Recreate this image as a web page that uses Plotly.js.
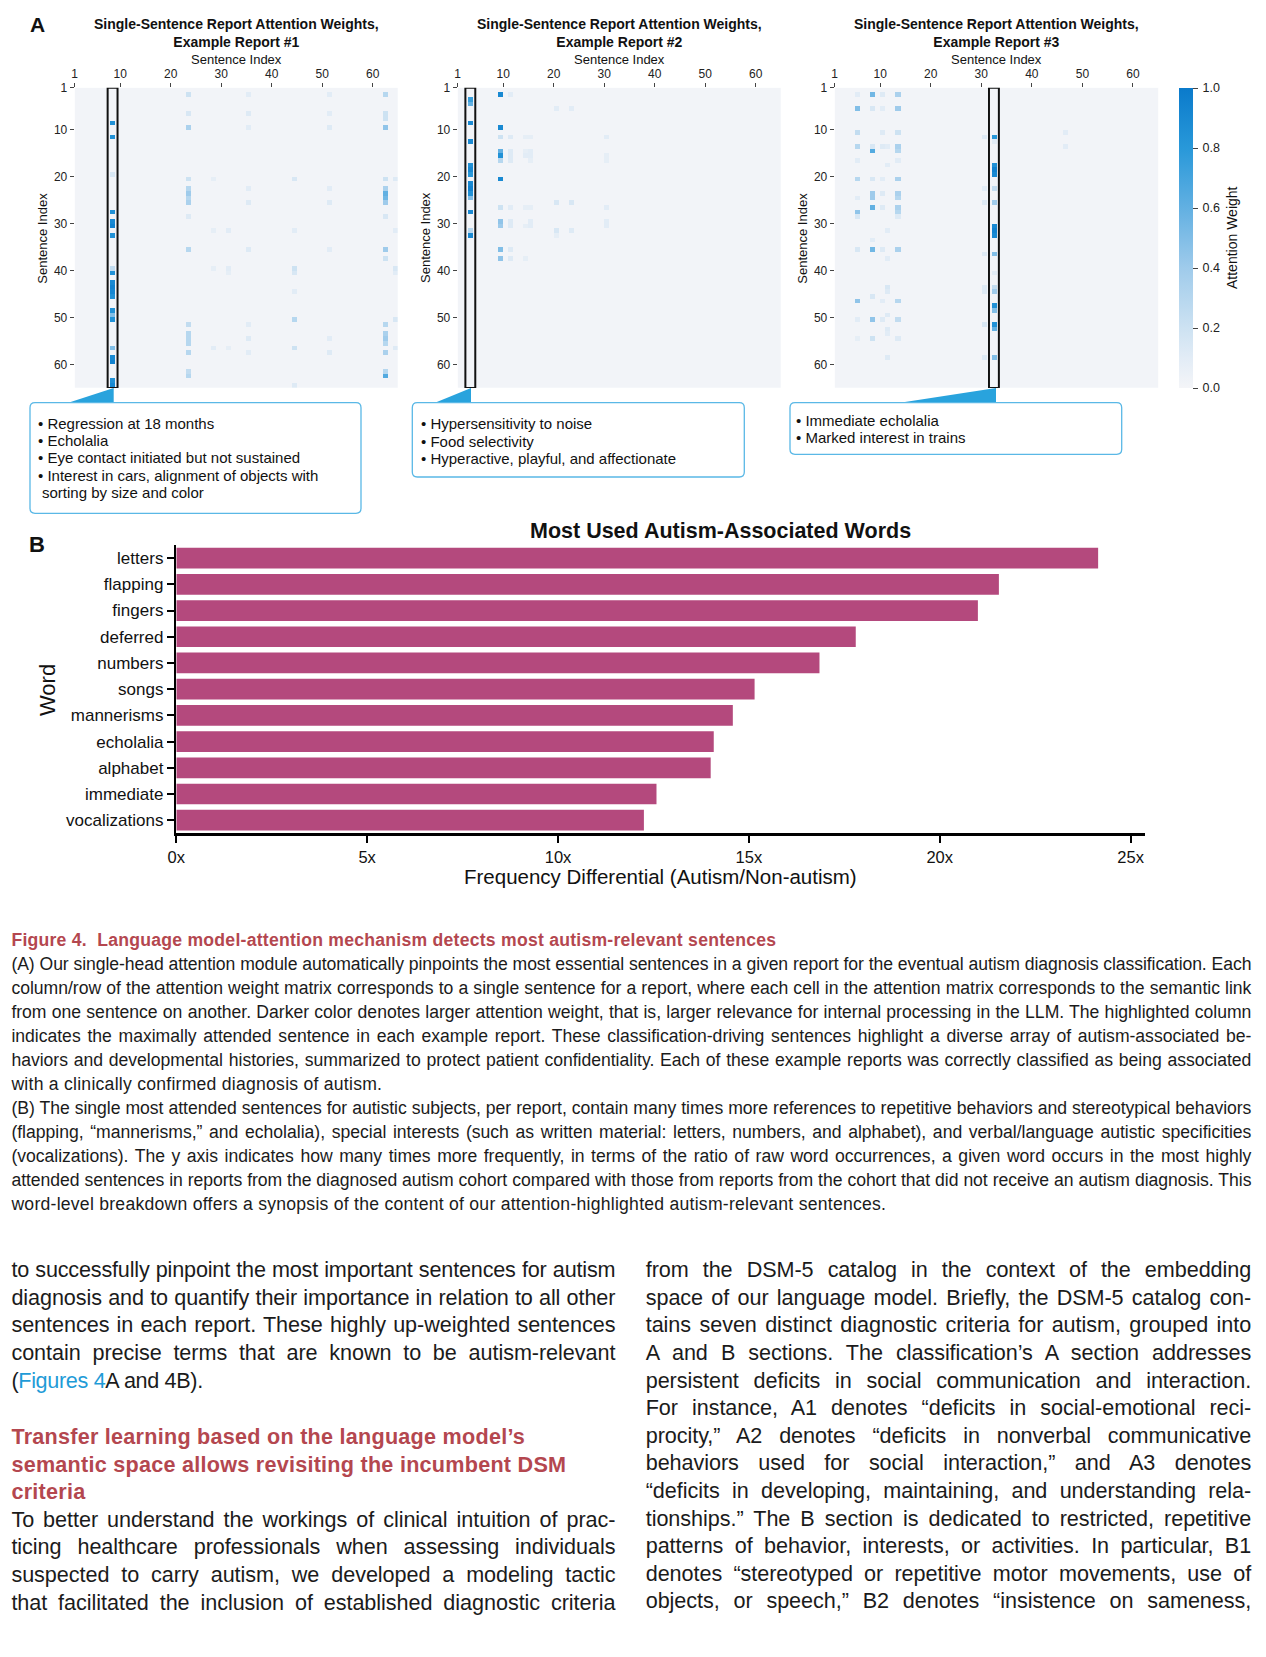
<!DOCTYPE html>
<html>
<head>
<meta charset="utf-8">
<script src="https://cdn.plot.ly/plotly-3.0.1.min.js"></script>
<style>
  html, body { margin:0; padding:0; background:#ffffff; }
  #page { position:relative; width:1266px; height:1657px; overflow:hidden; background:#fff; }
  #plot { position:absolute; left:0; top:0; width:1266px; height:900px; }
  .ln { position:absolute; font-family:'Liberation Sans', Arial, sans-serif; color:#1b1b1b; white-space:normal; overflow:visible; }
  .cap { font-size:17.6px; line-height:24px; height:24px; }
  .body { font-size:21.6px; line-height:27.6px; height:27.6px; }
  .j { text-align:justify; text-align-last:justify; }
  .red { color:#b4474f; font-weight:bold; }
  .link { color:#1e9bd7; }
</style>
</head>
<body>
<div id="page">
  <div id="plot"></div>
  <div id="text"></div>
</div>
<script>
// ---------------- DATA ----------------
const N = 64;
const sentenceIdx = Array.from({length: N}, (_, i) => i + 1);
const sentenceTickLabels = ['1', '10', '20', '30', '40', '50', '60'];
const highlightedSentence = [8, 3, 32];
const reportTitles = ['Example Report #1', 'Example Report #2', 'Example Report #3'];

// attention cells: [column sentence, row sentence, weight]; all other cells ~ baseline
const baselineWeight = 0.01;
const report1Cells = [
  [8,8,.85],[8,11,.85],[8,19,.15],[8,27,.85],[8,29,.9],[8,30,.95],[8,32,.85],[8,39,.25],[8,40,.85],
  [8,42,.9],[8,43,.95],[8,44,.92],[8,45,.85],[8,48,.85],[8,49,.5],[8,50,.85],[8,56,.5],[8,58,.9],
  [8,59,.95],[8,63,.85],[8,64,.9],
  [23,2,.2],[23,6,.15],[23,9,.35],[23,20,.2],[23,22,.3],[23,23,.4],[23,24,.3],[23,25,.35],[23,28,.12],
  [23,35,.3],[23,51,.25],[23,53,.3],[23,54,.3],[23,55,.3],[23,57,.3],[23,61,.25],[23,62,.3],
  [62,2,.3],[62,6,.2],[62,7,.2],[62,9,.45],[62,20,.2],[62,22,.35],[62,23,.6],[62,24,.55],[62,25,.4],
  [62,28,.15],[62,35,.4],[62,37,.2],[62,51,.3],[62,53,.35],[62,54,.4],[62,55,.3],[62,57,.35],
  [62,61,.3],[62,62,.65],
  [44,20,.15],[44,31,.1],[44,39,.2],[44,40,.15],[44,44,.1],[44,50,.3],[44,56,.2],[44,64,.12],
  [64,20,.12],[64,31,.1],[64,39,.15],[64,40,.1],[64,50,.15],[64,56,.12],
  [35,2,.1],[35,6,.12],[35,9,.1],[35,22,.1],[35,25,.12],[35,35,.12],[35,51,.1],[35,54,.12],[35,57,.1],
  [51,2,.1],[51,6,.1],[51,9,.12],[51,22,.1],[51,25,.12],[51,35,.1],[51,54,.1],[51,57,.12],
  [28,20,.08],[28,31,.08],[28,39,.08],[28,56,.1],
  [31,31,.1],[31,39,.1],[31,40,.08],[31,56,.08]
];
const report2Cells = [
  [3,3,.75],[3,4,.6],[3,8,.9],[3,12,.9],[3,17,.85],[3,18,.9],[3,19,.8],[3,21,.9],[3,22,.95],
  [3,23,.85],[3,24,.5],[3,27,.9],[3,31,.3],[3,32,.9],
  [9,2,.9],[9,9,.9],[9,11,.2],[9,14,.6],[9,15,.85],[9,16,.3],[9,20,.9],[9,26,.2],[9,29,.45],
  [9,30,.4],[9,35,.5],[9,37,.45],
  [11,2,.1],[11,11,.12],[11,14,.12],[11,15,.12],[11,16,.12],[11,26,.1],[11,29,.12],[11,30,.12],
  [11,35,.12],[11,37,.12],
  [14,11,.08],[14,14,.08],[14,15,.1],[14,26,.08],[14,30,.08],[14,37,.08],
  [15,11,.08],[15,14,.1],[15,15,.1],[15,16,.08],[15,26,.08],[15,29,.1],[15,30,.1],
  [20,5,.1],[20,25,.15],[20,31,.15],[20,32,.08],
  [23,5,.1],[23,25,.15],[23,31,.12],
  [30,11,.1],[30,15,.08],[30,16,.08],[30,26,.1],[30,29,.1],[30,30,.1]
];
const report3Cells = [
  [32,11,.8],[32,12,.1],[32,17,.85],[32,18,.95],[32,19,.9],[32,22,.25],[32,25,.4],[32,30,.9],
  [32,31,.95],[32,32,.9],[32,36,.5],[32,40,.1],[32,43,.25],[32,44,.4],[32,47,.85],[32,48,.5],
  [32,51,.85],[32,52,.6],[32,58,.5],
  [30,11,.12],[30,22,.1],[30,25,.12],[30,36,.12],[30,43,.12],[30,44,.12],[30,51,.15],[30,58,.12],
  [5,2,.1],[5,5,.5],[5,10,.25],[5,13,.3],[5,16,.1],[5,20,.3],[5,24,.1],[5,27,.45],[5,28,.15],
  [5,35,.15],[5,46,.45],[5,50,.1],[5,54,.08],
  [8,2,.55],[8,5,.15],[8,13,.15],[8,14,.65],[8,20,.15],[8,23,.4],[8,24,.4],[8,26,.6],[8,33,.1],
  [8,35,.55],[8,45,.15],[8,50,.45],[8,54,.2],
  [13,2,.35],[13,5,.4],[13,10,.2],[13,13,.35],[13,14,.3],[13,16,.1],[13,20,.35],[13,23,.35],
  [13,24,.3],[13,26,.35],[13,27,.3],[13,28,.12],[13,35,.35],[13,46,.3],[13,50,.25],[13,54,.12],
  [10,2,.12],[10,5,.1],[10,10,.12],[10,13,.12],[10,20,.1],[10,23,.12],[10,26,.12],[10,35,.12],
  [10,46,.1],[10,50,.12],
  [11,13,.1],[11,17,.1],[11,31,.1],[11,37,.1],[11,43,.15],[11,44,.12],[11,49,.12],[11,52,.12],
  [11,53,.1],[11,58,.12],
  [46,10,.1],[46,13,.1]
];
const colorbarTicks = [0, 0.2, 0.4, 0.6, 0.8, 1.0];

const words = ['letters','flapping','fingers','deferred','numbers','songs','mannerisms',
               'echolalia','alphabet','immediate','vocalizations'];
const freqDiff = [24.15, 21.55, 21.0, 17.8, 16.85, 15.15, 14.58, 14.08, 14.0, 12.58, 12.25];
const freqTicks = [0, 5, 10, 15, 20, 25];
const freqTickLabels = ['0x', '5x', '10x', '15x', '20x', '25x'];

const box1Lines = ['Regression at 18 months', 'Echolalia', 'Eye contact initiated but not sustained',
                   'Interest in cars, alignment of objects with', 'sorting by size and color'];
const box2Lines = ['Hypersensitivity to noise', 'Food selectivity', 'Hyperactive, playful, and affectionate'];
const box3Lines = ['Immediate echolalia', 'Marked interest in trains'];

// ---------------- LAYOUT HELPERS ----------------
const W = 1266, H = 900;
const FONT = "'Liberation Sans', Arial, sans-serif";
const X = p => p / W;
const Y = p => 1 - p / H;

function buildMatrix(cells) {
  const z = [];
  for (let r = 0; r < N; r++) z.push(new Array(N).fill(baselineWeight));
  cells.forEach(([c, r, v]) => { z[r - 1][c - 1] = v; });
  return z;
}

const colorscale = [
  [0, '#f4f5f8'], [0.1, '#e2ecf6'], [0.2, '#cde2f2'], [0.4, '#9fcbeb'],
  [0.6, '#62b0e2'], [0.8, '#2898d9'], [1, '#0a7acb']
];

const hmDomains = [[74.7, 398], [457.7, 781], [834.7, 1158.2]];
const hmTop = 87.7, hmBottom = 388;
const allCells = [report1Cells, report2Cells, report3Cells];

const data = [];
const layout = {
  width: W, height: H,
  margin: {l: 0, r: 0, t: 0, b: 0},
  paper_bgcolor: '#ffffff', plot_bgcolor: 'rgba(0,0,0,0)',
  showlegend: false,
  font: {family: FONT, color: '#1b1b1b'},
  shapes: [], annotations: []
};

const tickVals = sentenceTickLabels.map(t => Number(t) - 0.5);

function txt(x, y, text, size, opts) {
  return Object.assign({
    xref: 'paper', yref: 'paper', x: X(x), y: Y(y), text: text, showarrow: false,
    xanchor: 'center', yanchor: 'middle',
    font: {family: FONT, size: size, color: '#111111'}
  }, opts || {});
}

hmDomains.forEach((d, i) => {
  const sx = i === 0 ? '' : String(i + 1);
  const tr = {
    type: 'heatmap', x: sentenceIdx, y: sentenceIdx, z: buildMatrix(allCells[i]),
    colorscale: colorscale, zmin: 0, zmax: 1, showscale: i === 2,
    xaxis: 'x' + sx, yaxis: 'y' + sx, hoverinfo: 'skip'
  };
  if (i === 2) {
    tr.colorbar = {
      x: X(1179), xanchor: 'left', xpad: 0, xref: 'paper',
      y: Y(hmBottom), yanchor: 'bottom', ypad: 0, yref: 'paper',
      len: (hmBottom - hmTop) / H, lenmode: 'fraction',
      thickness: 14.3, thicknessmode: 'pixels', outlinewidth: 0,
      ticks: 'outside', ticklen: 5, tickcolor: '#444', tickwidth: 1,
      tickvals: colorbarTicks, ticktext: colorbarTicks.map(v => '\u2009' + v.toFixed(1)),
      tickfont: {family: FONT, size: 12.5, color: '#222'}
    };
  }
  data.push(tr);
  const axCommon = {
    tickvals: tickVals, ticktext: sentenceTickLabels, ticks: 'outside', ticklen: 4,
    tickcolor: '#444', tickwidth: 1, tickfont: {family: FONT, size: 12, color: '#222'},
    showgrid: false, zeroline: false, showline: false
  };
  layout['xaxis' + sx] = Object.assign({}, axCommon, {
    domain: [X(d[0]), X(d[1])], anchor: 'y' + sx, side: 'top', range: [0.5, N + 0.5]
  });
  layout['yaxis' + sx] = Object.assign({}, axCommon, {
    domain: [Y(hmBottom), Y(hmTop)], anchor: 'x' + sx, range: [N + 0.5, 0.5]
  });
  const c = highlightedSentence[i];
  layout.shapes.push({
    type: 'rect', xref: 'x' + sx, yref: 'y' + sx, x0: c - 0.98, x1: c + 0.98, y0: 0.5, y1: N + 0.5,
    line: {color: '#111111', width: 2}, fillcolor: 'rgba(0,0,0,0)', layer: 'above'
  });
  const cx = (d[0] + d[1]) / 2;
  layout.annotations.push(txt(cx, 33.2,
    '<b>Single-Sentence Report Attention Weights,<br>' + reportTitles[i] + '</b>', 14));
  layout.annotations.push(txt(cx, 60, 'Sentence Index', 13));
});
layout.annotations.push(txt(41.7, 238, 'Sentence Index', 13, {textangle: -90}));
layout.annotations.push(txt(425, 238, 'Sentence Index', 13, {textangle: -90}));
layout.annotations.push(txt(801.7, 238, 'Sentence Index', 13, {textangle: -90}));
layout.annotations.push(txt(1232, 238, 'Attention Weight', 14, {textangle: -90}));
layout.annotations.push(txt(37.5, 24.5, '<b>A</b>', 21));
layout.annotations.push(txt(37, 544, '<b>B</b>', 22));

function rrect(x0, y0, x1, y1, r) {
  const p = (x, y) => X(x) + ' ' + Y(y);
  return 'M ' + p(x0 + r, y0) + ' L ' + p(x1 - r, y0) + ' Q ' + p(x1, y0) + ' ' + p(x1, y0 + r) +
    ' L ' + p(x1, y1 - r) + ' Q ' + p(x1, y1) + ' ' + p(x1 - r, y1) +
    ' L ' + p(x0 + r, y1) + ' Q ' + p(x0, y1) + ' ' + p(x0, y1 - r) +
    ' L ' + p(x0, y0 + r) + ' Q ' + p(x0, y0) + ' ' + p(x0 + r, y0) + ' Z';
}
function tri(xa, xb, yBase, yApex) {
  return 'M ' + X(xa) + ' ' + Y(yBase) + ' L ' + X(xb) + ' ' + Y(yBase) + ' L ' + X(xb) + ' ' + Y(yApex) + ' Z';
}
const boxes = [
  {x0: 30, x1: 361, y1: 513.3, ta: 68.3, tb: 113.7, tx: 36, lines: box1Lines, y: [423.3, 440.7, 458, 475.3, 492.7]},
  {x0: 412.3, x1: 744.3, y1: 477, ta: 435, tb: 471, tx: 418.5, lines: box2Lines, y: [424, 441.3, 458.7]},
  {x0: 790, x1: 1121.7, y1: 454.3, ta: 900, tb: 996, tx: 794, lines: box3Lines, y: [420, 437.3]}
];
boxes.forEach(b => {
  layout.shapes.push({type: 'path', xref: 'paper', yref: 'paper', path: tri(b.ta, b.tb, 402.7, 388),
    fillcolor: '#29a3dd', line: {width: 0}});
  layout.shapes.push({type: 'path', xref: 'paper', yref: 'paper', path: rrect(b.x0, 402.7, b.x1, b.y1, 5),
    fillcolor: '#ffffff', line: {color: '#5ab8e6', width: 1.3}});
  b.lines.forEach((t, k) => {
    const cont = (b.lines === box1Lines && k === 4);
    layout.annotations.push(txt(cont ? b.tx + 4 : b.tx, b.y[k], cont ? t : '\u2022 ' + t, 15,
      {xanchor: 'left'}));
  });
});

data.push({
  type: 'bar', orientation: 'h', y: words, x: freqDiff, xaxis: 'x4', yaxis: 'y4',
  marker: {color: '#b4497d', line: {width: 0}}, width: 0.79, hoverinfo: 'skip'
});
layout.xaxis4 = {
  domain: [X(176.3), X(1144.7)], anchor: 'y4', range: [0, 25.37],
  tickvals: freqTicks, ticktext: freqTickLabels, ticks: 'outside', ticklen: 7, tickwidth: 2,
  tickcolor: '#000', showline: true, linecolor: '#000', linewidth: 2.5, showgrid: false, zeroline: false,
  tickfont: {family: FONT, size: 16.5, color: '#111'}
};
layout.yaxis4 = {
  domain: [Y(833.3), Y(545)], anchor: 'x4', type: 'category',
  categoryorder: 'array', categoryarray: words, range: [words.length - 0.5, -0.5],
  ticks: 'outside', ticklen: 7, tickwidth: 2, tickcolor: '#000', showline: true, linecolor: '#000',
  linewidth: 2.5, showgrid: false, zeroline: false,
  tickfont: {family: FONT, size: 17, color: '#111'}
};
layout.annotations.push(txt(720, 531, '<b>Most Used Autism-Associated Words</b>', 21.5));
layout.annotations.push(txt(47, 690, 'Word', 22, {textangle: -90}));
layout.annotations.push(txt(660.5, 876.7, 'Frequency Differential (Autism/Non-autism)', 20.5));

Plotly.newPlot('plot', data, layout, {displayModeBar: false, staticPlot: true});

// ---------------- TEXT ----------------
const captionTitle = 'Figure 4.&nbsp; Language model-attention mechanism detects most autism-relevant sentences';
const captionLines = [
  ['(A) Our single-head attention module automatically pinpoints the most essential sentences in a given report for the eventual autism diagnosis classification. Each', 'j'],
  ['column/row of the attention weight matrix corresponds to a single sentence for a report, where each cell in the attention matrix corresponds to the semantic link', 'j'],
  ['from one sentence on another. Darker color denotes larger attention weight, that is, larger relevance for internal processing in the LLM. The highlighted column', 'j'],
  ['indicates the maximally attended sentence in each example report. These classification-driving sentences highlight a diverse array of autism-associated be-', 'j'],
  ['haviors and developmental histories, summarized to protect patient confidentiality. Each of these example reports was correctly classified as being associated', 'j'],
  ['with a clinically confirmed diagnosis of autism.', 423],
  ['(B) The single most attended sentences for autistic subjects, per report, contain many times more references to repetitive behaviors and stereotypical behaviors', 'j'],
  ['(flapping, \u201cmannerisms,\u201d and echolalia), special interests (such as written material: letters, numbers, and alphabet), and verbal/language autistic specificities', 'j'],
  ['(vocalizations). The y axis indicates how many times more frequently, in terms of the ratio of raw word occurrences, a given word occurs in the most highly', 'j'],
  ['attended sentences in reports from the diagnosed autism cohort compared with those from reports from the cohort that did not receive an autism diagnosis. This', 'j'],
  ['word-level breakdown offers a synopsis of the content of our attention-highlighted autism-relevant sentences.', 1158]
];
const leftColLines = [
  ['to successfully pinpoint the most important sentences for autism', 'j'],
  ['diagnosis and to quantify their importance in relation to all other', 'j'],
  ['sentences in each report. These highly up-weighted sentences', 'j'],
  ['contain precise terms that are known to be autism-relevant', 'j'],
  ['(<span class="link">Figures 4</span>A and 4B).', 191.5]
];
const headingLines = [
  ['Transfer learning based on the language model\u2019s', 523],
  ['semantic space allows revisiting the incumbent DSM', 564],
  ['criteria', 76]
];
const leftColLines2 = [
  ['To better understand the workings of clinical intuition of prac-', 'j'],
  ['ticing healthcare professionals when assessing individuals', 'j'],
  ['suspected to carry autism, we developed a modeling tactic', 'j'],
  ['that facilitated the inclusion of established diagnostic criteria', 'j']
];
const rightColLines = [
  'from the DSM-5 catalog in the context of the embedding',
  'space of our language model. Briefly, the DSM-5 catalog con-',
  'tains seven distinct diagnostic criteria for autism, grouped into',
  'A and B sections. The classification\u2019s A section addresses',
  'persistent deficits in social communication and interaction.',
  'For instance, A1 denotes \u201cdeficits in social-emotional reci-',
  'procity,\u201d A2 denotes \u201cdeficits in nonverbal communicative',
  'behaviors used for social interaction,\u201d and A3 denotes',
  '\u201cdeficits in developing, maintaining, and understanding rela-',
  'tionships.\u201d The B section is dedicated to restricted, repetitive',
  'patterns of behavior, interests, or activities. In particular, B1',
  'denotes \u201cstereotyped or repetitive motor movements, use of',
  'objects, or speech,\u201d B2 denotes \u201cinsistence on sameness,'
];

const textRoot = document.getElementById('text');
function addLine(html, cls, left, centerY, lh, colWidth, mode) {
  const el = document.createElement('div');
  el.className = 'ln ' + cls;
  el.style.left = left + 'px';
  el.style.top = (centerY - lh / 2) + 'px';
  el.innerHTML = html;
  if (mode === 'j') {
    el.classList.add('j');
    el.style.width = colWidth + 'px';
    el.dataset.mode = 'j';
    el.dataset.w = colWidth;
  } else {
    el.style.width = (mode + 60) + 'px';
    el.dataset.mode = 'l';
    el.dataset.w = mode;
  }
  textRoot.appendChild(el);
}

addLine(captionTitle, 'cap red', 11.4, 940, 24, 0, 804);
captionLines.forEach((l, k) => addLine(l[0], 'cap', 11.4, 964 + 24 * k, 24, 1240, l[1]));
const bodyLH = 27.6;
leftColLines.forEach((l, k) => addLine(l[0], 'body', 11.4, 1270 + bodyLH * k, bodyLH, 604, l[1]));
headingLines.forEach((l, k) => addLine(l[0], 'body red', 11.4, 1436.7 + bodyLH * k, bodyLH, 0, l[1]));
leftColLines2.forEach((l, k) => addLine(l[0], 'body', 11.4, 1519.5 + bodyLH * k, bodyLH, 604, l[1]));
rightColLines.forEach((l, k) => addLine(l, 'body', 645.7, 1270 + bodyLH * k, bodyLH, 605.5, 'j'));

function fitLines() {
  document.querySelectorAll('.ln').forEach(el => {
    const target = parseFloat(el.dataset.w);
    const probe = document.createElement('span');
    probe.style.whiteSpace = 'nowrap';
    probe.innerHTML = el.innerHTML;
    el.innerHTML = '';
    el.appendChild(probe);
    el.style.letterSpacing = '0px';
    const nat = probe.getBoundingClientRect().width;
    const n = probe.textContent.length;
    let ls = 0;
    if (el.dataset.mode === 'j') {
      if (nat > target - 3) ls = (target - 3 - nat) / n;
    } else {
      ls = Math.max(-1.2, Math.min(0.25, (target - nat) / n));
    }
    el.style.letterSpacing = ls + 'px';
    el.innerHTML = probe.innerHTML;
  });
}
if (document.fonts && document.fonts.ready) {
  document.fonts.ready.then(fitLines);
} else {
  fitLines();
}
</script>
</body>
</html>
